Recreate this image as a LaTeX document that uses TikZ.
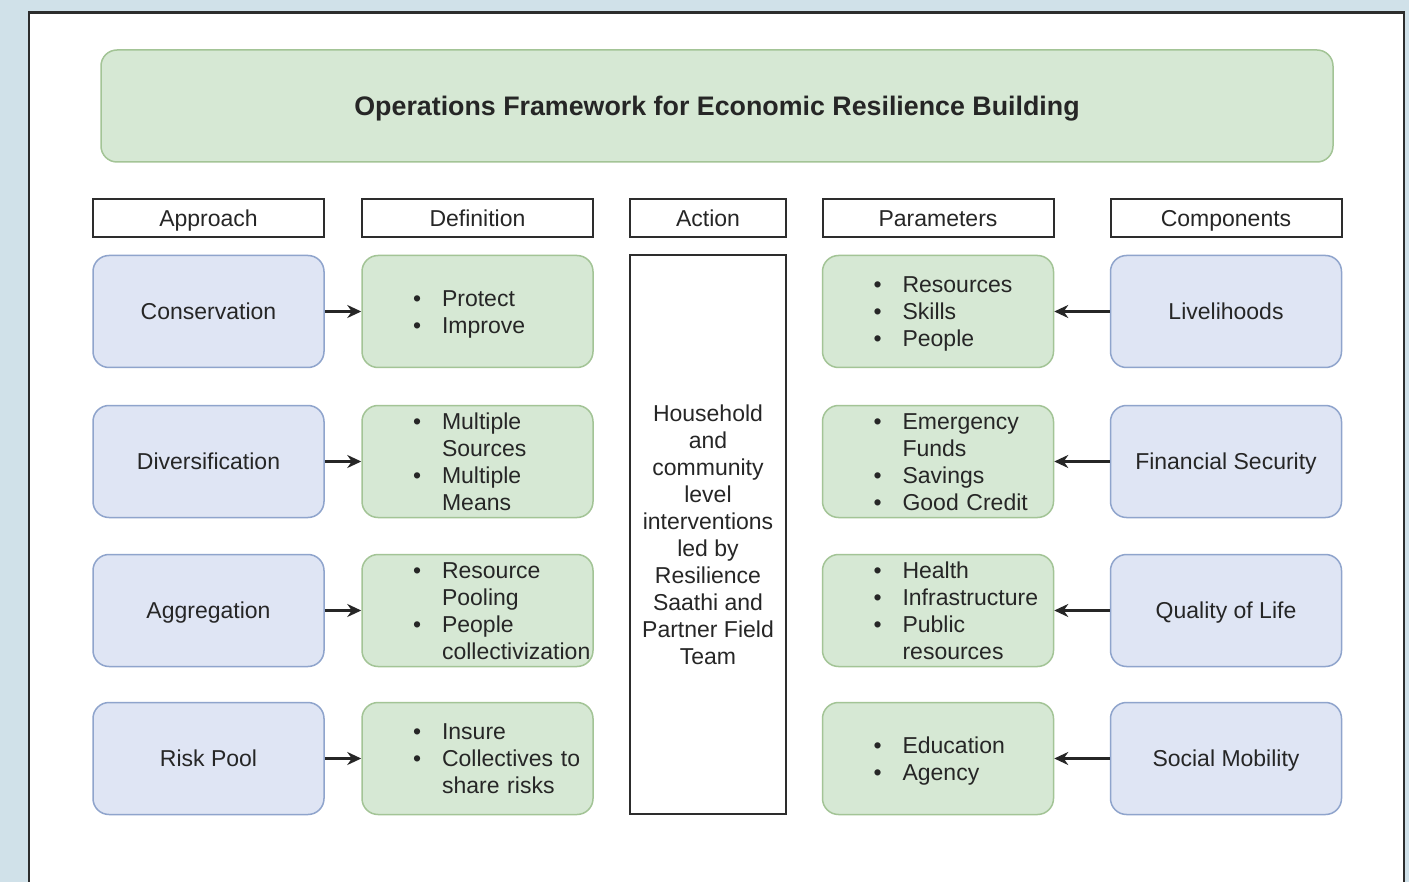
\documentclass[tikz,border=0pt]{standalone}
\usepackage{fontspec}
\setmainfont{Liberation Sans}
\usetikzlibrary{arrows.meta}

\definecolor{pagebg}{RGB}{208,225,233}
\definecolor{framegray}{RGB}{45,45,45}
\definecolor{greenfill}{RGB}{214,232,212}
\definecolor{greenline}{RGB}{163,196,150}
\definecolor{bluefill}{RGB}{223,229,244}
\definecolor{blueline}{RGB}{143,164,204}
\definecolor{inktext}{RGB}{38,38,38}

\tikzset{
	every node/.style={font=\fontsize{11.5}{13.5}\selectfont, text=inktext},
	headbox/.style={draw=framegray, line width=1pt, fill=white, minimum height=19pt, inner sep=0pt, text height=8.2pt, text depth=0pt},
	blockbox/.style={draw=blueline, line width=0.75pt, fill=bluefill, rounded corners=8pt, minimum width=115.5pt, minimum height=56pt, inner sep=0pt, text height=8.2pt, text depth=0pt},
	listbox/.style={draw=greenline, line width=0.75pt, fill=greenfill, rounded corners=8pt, minimum height=56pt, text width=115.5pt, inner xsep=0pt, inner ysep=0pt, align=left},
	feed/.style={-{Stealth[length=7pt,width=6.5pt]}, line width=1.25pt, draw=black!85},
}

\newcommand{\pointlist}[1]{\hspace*{25.5pt}\raisebox{0pt}[\dimexpr\height+1.5pt\relax][\dimexpr\depth-1.5pt\relax]{\begin{tabular}{@{}l@{\hspace{10.5pt}}l@{}}#1\end{tabular}}}

\begin{document}
\begin{tikzpicture}[x=0.5pt, y=-0.5pt]
	\clip (0,0) rectangle (1409,882);
	\fill[pagebg] (0,0) rectangle (1409,882);
	\draw[framegray, line width=1.25pt, fill=white] (29,12.5) rectangle (1404,900);

	\node[draw=greenline, line width=0.75pt, fill=greenfill, rounded corners=8pt, minimum width=616pt, minimum height=56pt, text height=9.6pt, text depth=0pt, font=\fontsize{13.4}{16}\selectfont\bfseries] (title) at (717,106) {Operations Framework for Economic Resilience Building};

	\node[headbox, minimum width=115.5pt] (headApproach) at (208.5,218) {Approach};
	\node[headbox, minimum width=115.5pt] (headDefinition) at (477.5,218) {Definition};
	\node[headbox, minimum width=78pt] (headAction) at (708,218) {Action};
	\node[headbox, minimum width=115.5pt] (headParameters) at (938,218) {Parameters};
	\node[headbox, minimum width=115.5pt] (headComponents) at (1226,218) {Components};

	\node[blockbox] (conservation) at (208.5,311.5) {Conservation};
	\node[blockbox] (diversification) at (208.5,461.5) {Diversification};
	\node[blockbox] (aggregation) at (208.5,610.5) {Aggregation};
	\node[blockbox] (riskpool) at (208.5,758.5) {Risk Pool};

	\node[listbox] (defConservation) at (477.5,311.5) {\pointlist{\textbullet & Protect\\ \textbullet & Improve}};
	\node[listbox] (defDiversification) at (477.5,461.5) {\pointlist{\textbullet & Multiple\\ & Sources\\ \textbullet & Multiple\\ & Means}};
	\node[listbox] (defAggregation) at (477.5,610.5) {\pointlist{\textbullet & Resource\\ & Pooling\\ \textbullet & People\\ & collectivization}};
	\node[listbox] (defRiskpool) at (477.5,758.5) {\pointlist{\textbullet & Insure\\ \textbullet & Collectives to\\ & share risks}};

	\node[draw=framegray, line width=1pt, fill=white, minimum width=78pt, minimum height=279.5pt, inner sep=0pt, align=center] (action) at (708,534.5) {Household\\and\\community\\level\\interventions\\led by\\Resilience\\Saathi and\\Partner Field\\Team};

	\node[listbox] (parLivelihoods) at (938,311.5) {\pointlist{\textbullet & Resources\\ \textbullet & Skills\\ \textbullet & People}};
	\node[listbox] (parFinancial) at (938,461.5) {\pointlist{\textbullet & Emergency\\ & Funds\\ \textbullet & Savings\\ \textbullet & Good Credit}};
	\node[listbox] (parQuality) at (938,610.5) {\pointlist{\textbullet & Health\\ \textbullet & Infrastructure\\ \textbullet & Public\\ & resources}};
	\node[listbox] (parMobility) at (938,758.5) {\pointlist{\textbullet & Education\\ \textbullet & Agency}};

	\node[blockbox] (livelihoods) at (1226,311.5) {Livelihoods};
	\node[blockbox] (financial) at (1226,461.5) {Financial Security};
	\node[blockbox] (quality) at (1226,610.5) {Quality of Life};
	\node[blockbox] (mobility) at (1226,758.5) {Social Mobility};

	\draw[feed] (conservation) -- (defConservation);
	\draw[feed] (diversification) -- (defDiversification);
	\draw[feed] (aggregation) -- (defAggregation);
	\draw[feed] (riskpool) -- (defRiskpool);

	\draw[feed] (livelihoods) -- (parLivelihoods);
	\draw[feed] (financial) -- (parFinancial);
	\draw[feed] (quality) -- (parQuality);
	\draw[feed] (mobility) -- (parMobility);
\end{tikzpicture}
\end{document}
